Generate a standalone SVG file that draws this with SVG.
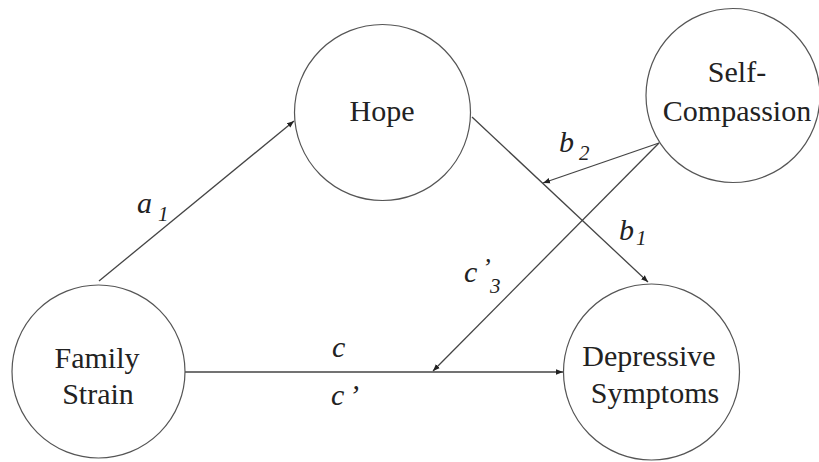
<svg xmlns="http://www.w3.org/2000/svg" width="819" height="462" viewBox="0 0 819 462">
<defs>
<style>
.node circle{fill:#fff;stroke:#555;stroke-width:1.2}
.node text{font-size:30px;fill:#222;text-anchor:middle}
.edge line{stroke:#444;stroke-width:1.3;fill:none}
.lbl{font-style:italic;fill:#222}
.m{font-size:30px}
.s{font-size:21px}
</style>
<marker id="ah" viewBox="0 0 10 10" refX="10" refY="5" markerWidth="7" markerHeight="7" markerUnits="userSpaceOnUse" orient="auto">
<path d="M0,1 L10,5 L0,9 Z" fill="#222"/>
</marker>
</defs>
<rect width="819" height="462" fill="#fff"/>
<g id="connectors" class="edge">
<line x1="99" y1="281" x2="294" y2="121" marker-end="url(#ah)"/>
<line x1="472" y1="117" x2="648" y2="282" marker-end="url(#ah)"/>
<line x1="185" y1="372" x2="563" y2="372" marker-end="url(#ah)"/>
<line x1="659" y1="143" x2="543" y2="183" marker-end="url(#ah)"/>
<line x1="659" y1="143" x2="433" y2="371" marker-end="url(#ah)"/>
</g>
<g font-family="Liberation Serif, Times New Roman, serif">
<g id="hope" class="node">
<circle cx="382.5" cy="112.5" r="88"/>
<text x="382" y="121">Hope</text>
</g>
<g id="self-compassion" class="node">
<circle cx="733" cy="95.5" r="87"/>
<text x="737" y="82">Self-</text>
<text x="737" y="121">Compassion</text>
</g>
<g id="family-strain" class="node">
<circle cx="98.5" cy="371.5" r="86.5"/>
<text x="97" y="368">Family</text>
<text x="98" y="404">Strain</text>
</g>
<g id="depressive-symptoms" class="node">
<circle cx="651.5" cy="372" r="88"/>
<text x="649" y="366">Depressive</text>
<text x="655" y="403">Symptoms</text>
</g>
<g id="labels">
<text class="lbl m" x="137" y="213">a</text><text class="lbl s" x="158" y="221">1</text>
<text class="lbl m" x="559" y="152">b</text><text class="lbl s" x="579" y="160">2</text>
<text class="lbl m" x="619" y="240">b</text><text class="lbl s" x="636" y="245">1</text>
<text class="lbl m" x="464" y="282">c</text><text class="lbl" font-size="26" x="482" y="276">’</text><text class="lbl s" x="490" y="293">3</text>
<text class="lbl m" x="332" y="357">c</text>
<text class="lbl m" x="331" y="405">c</text><text class="lbl m" x="349" y="405">’</text>
</g>
</g>
</svg>
